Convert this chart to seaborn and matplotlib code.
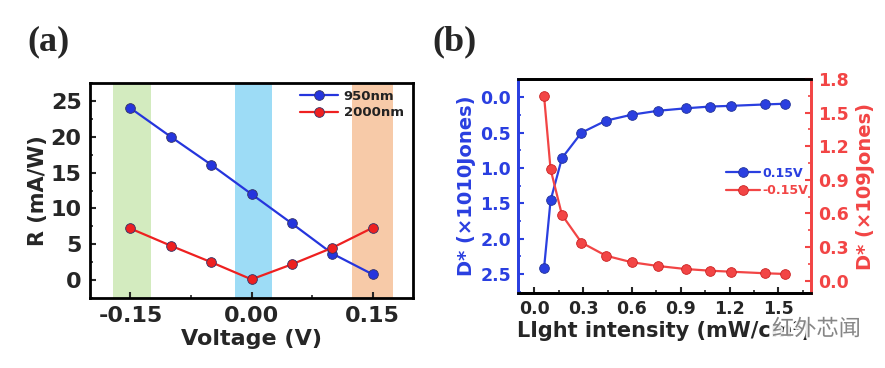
import matplotlib
matplotlib.use("Agg")
import matplotlib.pyplot as plt
import matplotlib.patheffects as pe
from matplotlib.ticker import MultipleLocator
import seaborn as sns
import pandas as pd

# ---------------- data ----------------
voltage = [-0.15, -0.10, -0.05, 0.00, 0.05, 0.10, 0.15]
r_950 = [24.0, 20.0, 16.1, 12.0, 7.9, 3.7, 0.8]
r_2000 = [7.2, 4.8, 2.5, 0.1, 2.2, 4.5, 7.3]
series_a = ["950nm", "2000nm"]

intensity = [0.06, 0.10, 0.17, 0.29, 0.44, 0.60, 0.76, 0.93, 1.08, 1.21, 1.42, 1.54]
d_pos = [2.42, 1.46, 0.86, 0.50, 0.33, 0.245, 0.19, 0.155, 0.13, 0.12, 0.10, 0.09]
d_neg = [1.65, 0.995, 0.587, 0.34, 0.223, 0.164, 0.131, 0.104, 0.089, 0.080, 0.066, 0.060]
series_b = ["0.15V", "-0.15V"]

x_ticks_a = [-0.15, 0.00, 0.15]
x_ticks_b = [0.0, 0.3, 0.6, 0.9, 1.2, 1.5]
y_ticks_b_left = [0.0, 0.5, 1.0, 1.5, 2.0, 2.5]
y_ticks_b_right = [0.0, 0.3, 0.6, 0.9, 1.2, 1.5, 1.8]

sns.set_theme(style="white")
plt.rcParams["font.family"] = ["DejaVu Sans"]
plt.rcParams["font.weight"] = "bold"

BLUE = "#2535dd"
RED = "#ee2020"
BLUE_B = "#2a3fe0"
RED_B = "#f24545"

fig = plt.figure(figsize=(8.85, 3.68), dpi=100)
ax_a = fig.add_axes([90 / 885, 70 / 368, 323 / 885, 215 / 368])
ax_b = fig.add_axes([518 / 885, 75 / 368, 293 / 885, 214 / 368])

# ---------------- panel (a) ----------------
df_a = pd.DataFrame({
    "V": voltage * 2,
    "R": r_950 + r_2000,
    "s": [series_a[0]] * len(voltage) + [series_a[1]] * len(voltage),
})
ax_a.axvspan(-0.171, -0.124, color="#d3ebbf", lw=0, zorder=0)
ax_a.axvspan(-0.021, 0.026, color="#9ddcf6", lw=0, zorder=0)
ax_a.axvspan(0.124, 0.175, color="#f7caa8", lw=0, zorder=0)
sns.lineplot(data=df_a, x="V", y="R", hue="s", palette=[BLUE, RED],
             marker="o", markersize=7, markeredgecolor="#333366",
             markeredgewidth=0.6, linewidth=1.6, ax=ax_a, zorder=3)
ax_a.set_xlim(-0.2, 0.2)
ax_a.set_ylim(-2.5, 27.5)
ax_a.set_xticks(x_ticks_a)
ax_a.set_xticklabels(["%.2f" % v for v in x_ticks_a])
ax_a.xaxis.set_minor_locator(MultipleLocator(0.075))
ax_a.yaxis.set_major_locator(MultipleLocator(5))
ax_a.yaxis.set_minor_locator(MultipleLocator(2.5))
ax_a.tick_params(which="major", direction="in", length=4, width=1.5,
                 labelsize=16, bottom=True, left=True, pad=6)
ax_a.tick_params(which="minor", direction="in", length=2.5, width=1.2,
                 bottom=True, left=True)
for s in ax_a.spines.values():
    s.set_linewidth(2)
    s.set_color("black")
ax_a.set_xlabel("Voltage (V)", fontsize=16, fontweight="bold", labelpad=2)
ax_a.set_ylabel("R (mA/W)", fontsize=15, fontweight="bold", labelpad=2)
leg = ax_a.legend(loc="upper right", bbox_to_anchor=(1.0, 1.01),
                  frameon=False, fontsize=9.5,
                  handlelength=2.9, handletextpad=0.4, borderaxespad=0.3,
                  labelspacing=0.25)
for t in leg.get_texts():
    t.set_fontweight("bold")
    t.set_color("#222222")

# ---------------- panel (b) ----------------
ax_b2 = ax_b.twinx()
df_b1 = pd.DataFrame({"I": intensity, "D": d_pos, "s": series_b[0]})
df_b2 = pd.DataFrame({"I": intensity, "D": d_neg, "s": series_b[1]})
sns.lineplot(data=df_b1, x="I", y="D", hue="s", palette=[BLUE_B],
             marker="o", markersize=7, markeredgecolor="#223399",
             markeredgewidth=0.6, linewidth=1.6, ax=ax_b, legend=False)
sns.lineplot(data=df_b2, x="I", y="D", hue="s", palette=[RED_B],
             marker="o", markersize=7, markeredgecolor="#cc2222",
             markeredgewidth=0.6, linewidth=1.6, ax=ax_b2, legend=False)
ax_b.set_xlim(-0.1, 1.7)
ax_b.set_ylim(2.77, -0.26)
ax_b2.set_ylim(-0.11, 1.8)
ax_b.set_xticks(x_ticks_b)
ax_b.set_xticklabels(["%.1f" % v for v in x_ticks_b])
ax_b.xaxis.set_minor_locator(MultipleLocator(0.15))
ax_b.yaxis.set_minor_locator(MultipleLocator(0.25))
ax_b2.yaxis.set_minor_locator(MultipleLocator(0.15))
ax_b.set_yticks(y_ticks_b_left)
ax_b.set_yticklabels(["%.1f" % v for v in y_ticks_b_left])
ax_b2.set_yticks(y_ticks_b_right)
ax_b2.set_yticklabels(["%.1f" % v for v in y_ticks_b_right])

ax_b.tick_params(axis="x", which="major", direction="in", length=4, width=1.5,
                 labelsize=12.5, bottom=True, pad=5)
ax_b.tick_params(axis="x", which="minor", direction="in", length=2.5, width=1.2,
                 bottom=True)
ax_b.tick_params(axis="y", which="major", direction="in", length=4, width=1.5,
                 labelsize=12.5, left=True, colors=BLUE_B, pad=5)
ax_b.tick_params(axis="y", which="minor", direction="in", length=2.5, width=1.2,
                 left=True, colors=BLUE_B)
ax_b2.tick_params(axis="y", which="major", direction="in", length=4, width=1.5,
                  labelsize=12.5, right=True, colors=RED_B, pad=5)
ax_b2.tick_params(axis="y", which="minor", direction="in", length=2.5, width=1.2,
                  right=True, colors=RED_B)
for a in (ax_b, ax_b2):
    for s in a.spines.values():
        s.set_linewidth(2)
        s.set_color("black")
    a.spines["left"].set_color(BLUE_B)
    a.spines["right"].set_color(RED_B)
ax_b.set_xlabel("LIght intensity (mW/cm²)", fontsize=15, fontweight="bold",
                labelpad=2)
ax_b.set_ylabel("D* (×1010Jones)", fontsize=14, fontweight="bold",
                color=BLUE_B, labelpad=3)
ax_b2.set_ylabel("D* (×109Jones)", fontsize=14, fontweight="bold",
                 color=RED_B, labelpad=5)

handles = ax_b.get_lines()[:1] + ax_b2.get_lines()[:1]
leg_b = ax_b.legend(handles, series_b, loc="center right",
                    bbox_to_anchor=(1.01, 0.52), frameon=False, fontsize=9,
                    handlelength=2.7, handletextpad=0.15, labelspacing=0.35,
                    borderaxespad=0.1)
for t, c in zip(leg_b.get_texts(), [BLUE_B, RED_B]):
    t.set_fontweight("bold")
    t.set_color(c)

# panel labels
fig.text(27 / 885, 1 - 50 / 368, "(a)", fontsize=26, fontweight="bold",
         family=["Liberation Serif", "DejaVu Serif"], ha="left", va="baseline")
fig.text(432 / 885, 1 - 50 / 368, "(b)", fontsize=26, fontweight="bold",
         family=["Liberation Serif", "DejaVu Serif"], ha="left", va="baseline")

# watermark
fig.text(772 / 885, 1 - 329 / 368, "红外芯闻", fontsize=16, color="#7a7a7a",
         family=["Noto Sans CJK SC", "DejaVu Sans"], fontweight="normal",
         ha="left", va="center", alpha=0.9,
         path_effects=[pe.withStroke(linewidth=3, foreground="white")])

fig.savefig("out.png", dpi=100)
